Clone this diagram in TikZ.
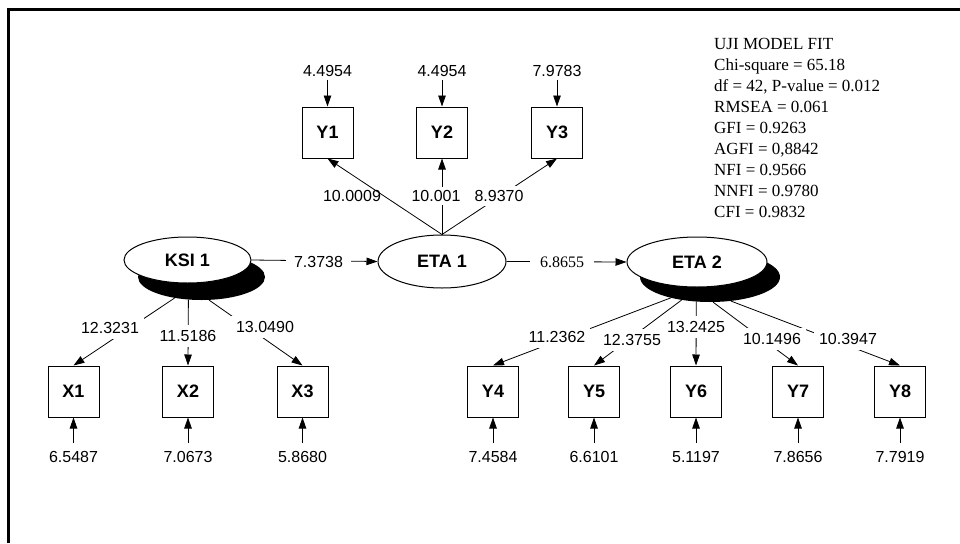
\documentclass[tikz,border=0pt]{standalone}
\usepackage{fontspec}
\setmainfont{Liberation Serif}
\setsansfont{Liberation Sans}
\usetikzlibrary{arrows.meta, shapes.geometric}
\tikzset{
  obsbox/.style={draw, line width=1pt, fill=white, minimum width=51pt, minimum height=51pt,
                 inner sep=0pt, font=\sffamily\bfseries\fontsize{18}{20}\selectfont},
  latent/.style={ellipse, draw, line width=1pt, fill=white, inner sep=0pt,
                 font=\sffamily\bfseries\fontsize{18}{20}\selectfont},
  dropell/.style={ellipse, fill=black, inner sep=0pt},
  num/.style={font=\sffamily\fontsize{16}{18}\selectfont, inner sep=3pt},
  numw/.style={num, fill=white, inner sep=5pt},
  errlbl/.style={num, inner sep=3pt},
  flow/.style={-{Triangle[length=11pt, width=7.5pt]}, line width=0.8pt},
  link/.style={line width=0.8pt},
  frameline/.style={line width=3.3pt, line join=miter},
  fitnote/.style={align=left, anchor=north west, inner sep=0pt,
                  font=\rmfamily\fontsize{17}{21}\selectfont},
}

\begin{document}
\begin{tikzpicture}[x=1pt, y=-1pt]
  \useasboundingbox (0,0) rectangle (960,543);
  \draw[frameline] (8.3,543) -- (8.3,9.3) -- (960,9.3);

  % latent variables (shadow first)
  \node[dropell, minimum width=127pt, minimum height=46pt] (ksi1s) at (201.5,277) {};
  \node[latent, minimum width=127pt, minimum height=46pt] (ksi1) at (187.5,260) {KSI 1};
  \node[latent, minimum width=128pt, minimum height=53pt] (eta1) at (442,261.5) {ETA 1};
  \node[dropell, minimum width=140pt, minimum height=50pt] (eta2s) at (710,277) {};
  \node[latent, minimum width=140pt, minimum height=50pt] (eta2) at (697,262) {ETA 2};

  % indicators
  \node[obsbox] (y1) at (327.5,132.5) {Y1};
  \node[obsbox] (y2) at (442,132.5) {Y2};
  \node[obsbox] (y3) at (557,132.5) {Y3};
  \node[obsbox] (x1) at (73.5,391.5) {X1};
  \node[obsbox] (x2) at (188,391.5) {X2};
  \node[obsbox] (x3) at (302.5,391.5) {X3};
  \node[obsbox] (y4) at (493,391.5) {Y4};
  \node[obsbox] (y5) at (594,391.5) {Y5};
  \node[obsbox] (y6) at (696,391.5) {Y6};
  \node[obsbox] (y7) at (798,391.5) {Y7};
  \node[obsbox] (y8) at (900,391.5) {Y8};

  % error terms
  \node[errlbl] (ey1) at (327.5,71) {4.4954};
  \node[errlbl] (ey2) at (442,71) {4.4954};
  \node[errlbl] (ey3) at (557,71) {7.9783};
  \node[errlbl] (ex1) at (73.5,457) {6.5487};
  \node[errlbl] (ex2) at (188,457) {7.0673};
  \node[errlbl] (ex3) at (302.5,457) {5.8680};
  \node[errlbl] (ey4) at (493,457) {7.4584};
  \node[errlbl] (ey5) at (594,457) {6.6101};
  \node[errlbl] (ey6) at (696,457) {5.1197};
  \node[errlbl] (ey7) at (798,457) {7.8656};
  \node[errlbl] (ey8) at (900,457) {7.7919};

  \draw[flow] (ey1) -- (y1);
  \draw[flow] (ey2) -- (y2);
  \draw[flow] (ey3) -- (y3);
  \draw[flow] ([yshift=5pt]ex1.north) -- (x1.south);
  \draw[flow] ([yshift=5pt]ex2.north) -- (x2.south);
  \draw[flow] ([yshift=5pt]ex3.north) -- (x3.south);
  \draw[flow] ([yshift=5pt]ey4.north) -- (y4.south);
  \draw[flow] ([yshift=5pt]ey5.north) -- (y5.south);
  \draw[flow] ([yshift=5pt]ey6.north) -- (y6.south);
  \draw[flow] ([yshift=5pt]ey7.north) -- (y7.south);
  \draw[flow] ([yshift=5pt]ey8.north) -- (y8.south);

  % ETA 1 loadings
  \draw[flow] (eta1.north) -- (y1.south);
  \draw[flow] (eta1.north) -- (y2.south);
  \draw[flow] (eta1.north) -- (y3.south);
  \node[num] (ly1) at (352,196) {10.0009};
  \node[numw, inner sep=3pt] (ly2) at (436,196) {10.001};
  \node[numw, inner sep=4pt] (ly3) at (499,196) {8.9370};

  % KSI 1 loadings
  \draw[flow] (ksi1s.218) -- (x1.north);
  \draw[flow] (ksi1s.240) -- (x2.north);
  \draw[flow] (ksi1s.288) -- (x3.north);
  \node[numw] (lx1) at (110,328) {12.3231};
  \node[numw] (lx2) at (188,336) {11.5186};
  \node[numw] (lx3) at (265,327) {13.0490};

  % ETA 2 loadings
  \draw[flow] (eta2s.208) -- (y4.north);
  \draw[flow] (eta2s.219) -- (y5.north);
  \draw[flow] (eta2s.241) -- (y6.north);
  \draw[flow] (eta2s.277) -- (y7.north);
  \draw[flow] (eta2s.311) -- (y8.north);
  \node[numw] (ly4) at (557,337) {11.2362};
  \node[numw] (ly5) at (632,340) {12.3755};
  \node[numw] (ly6) at (696,327) {13.2425};
  \node[numw] (ly7) at (772,339) {10.1496};
  \node[numw] (ly8) at (848,339) {10.3947};

  % structural paths
  \draw[flow] (ksi1.east) -- (eta1.west);
  \node[numw, inner xsep=8pt] (g11) at (318.5,262) {7.3738};
  \draw[flow] (eta1.east) -- (eta2.west);
  \node[numw, inner xsep=10pt, font=\rmfamily\fontsize{16}{18}\selectfont] (b21) at (562,262) {6.8655};

  % fit statistics
  \node[fitnote] (fitstats) at (714,38.4) {UJI MODEL FIT\\
    Chi-square = 65.18\\
    df = 42, P-value = 0.012\\
    RMSEA = 0.061\\
    GFI = 0.9263\\
    AGFI = 0,8842\\
    NFI = 0.9566\\
    NNFI = 0.9780\\
    CFI = 0.9832};
\end{tikzpicture}
\end{document}
